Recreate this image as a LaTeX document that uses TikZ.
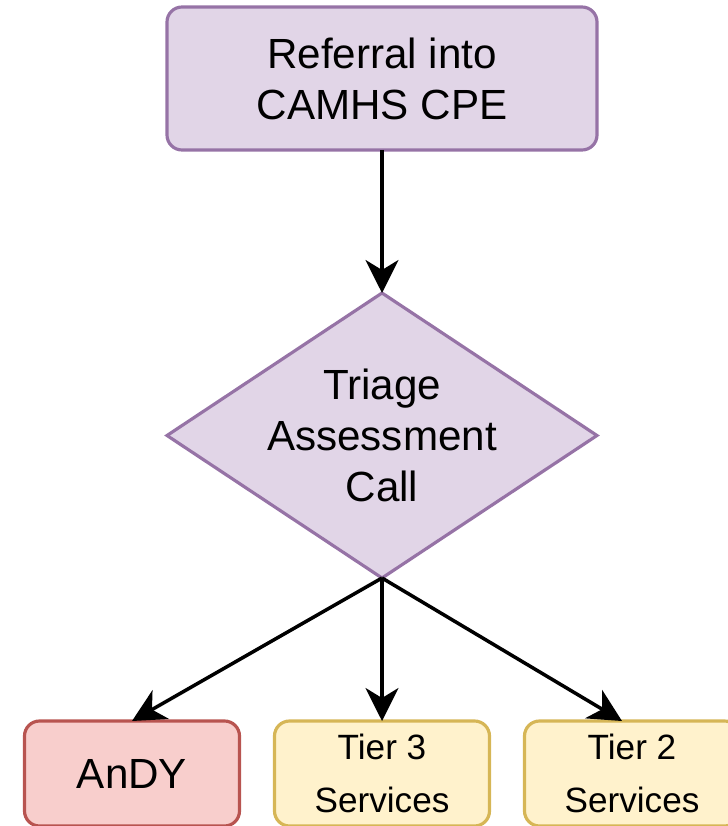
\documentclass[tikz,border=0pt]{standalone}
\usepackage{fontspec}
\setmainfont{Liberation Sans}
\usetikzlibrary{arrows.meta, positioning, shapes.geometric}

\definecolor{purplefill}{HTML}{E1D5E7}
\definecolor{purpleline}{HTML}{9673A6}
\definecolor{redfill}{HTML}{F8CECC}
\definecolor{redline}{HTML}{B85450}
\definecolor{yellowfill}{HTML}{FFF2CC}
\definecolor{yellowline}{HTML}{D6B656}

\begin{document}
\begin{tikzpicture}
  % Styles
  \tikzstyle{stagebox} = [rectangle, rounded corners=0.3cm, draw, line width=1.8pt, align=center, inner sep=0pt, outer sep=0pt]
  \tikzstyle{decision} = [diamond, draw=purpleline, fill=purplefill, line width=1.8pt, minimum width=8.6cm, minimum height=5.7cm, inner sep=0pt, outer sep=0pt]
  \tikzstyle{arrow} = [draw, line width=2pt, -{Stealth[length=0.66cm, width=0.66cm, inset=0.2cm]}]

  \useasboundingbox (0,0) rectangle (14.56,-16.52);

  % Nodes
  \node[stagebox, draw=purpleline, fill=purplefill, minimum width=8.6cm, minimum height=2.86cm,
        font=\fontsize{24}{29}\selectfont] (referral) at (7.64,-1.57) {Referral into\\CAMHS CPE};
  \node[decision, below=2.86cm of referral] (triage) {};
  \node[align=center, font=\fontsize{24}{29}\selectfont] (triagetext) at (triage.center) {Triage\\Assessment\\Call};

  \node[stagebox, draw=yellowline, fill=yellowfill, minimum width=4.3cm, minimum height=2.1cm,
        font=\fontsize{20}{30}\selectfont, below=2.86cm of triage] (tierthree) {Tier 3\\Services};
  \node[stagebox, draw=redline, fill=redfill, minimum width=4.3cm, minimum height=2.1cm,
        font=\fontsize{24}{29}\selectfont, left=0.7cm of tierthree] (andy) {AnDY};
  \node[stagebox, draw=yellowline, fill=yellowfill, minimum width=4.3cm, minimum height=2.1cm,
        font=\fontsize{20}{30}\selectfont, right=0.7cm of tierthree] (tiertwo) {Tier 2\\Services};

  % Connectors
  \draw[arrow] (referral.south) -- (triage.north);
  \draw[arrow] (triage.south) -- (andy.north);
  \draw[arrow] (triage.south) -- (tierthree.north);
  \draw[arrow] (triage.south) -- ([xshift=-0.2cm]tiertwo.north);

\end{tikzpicture}
\end{document}
